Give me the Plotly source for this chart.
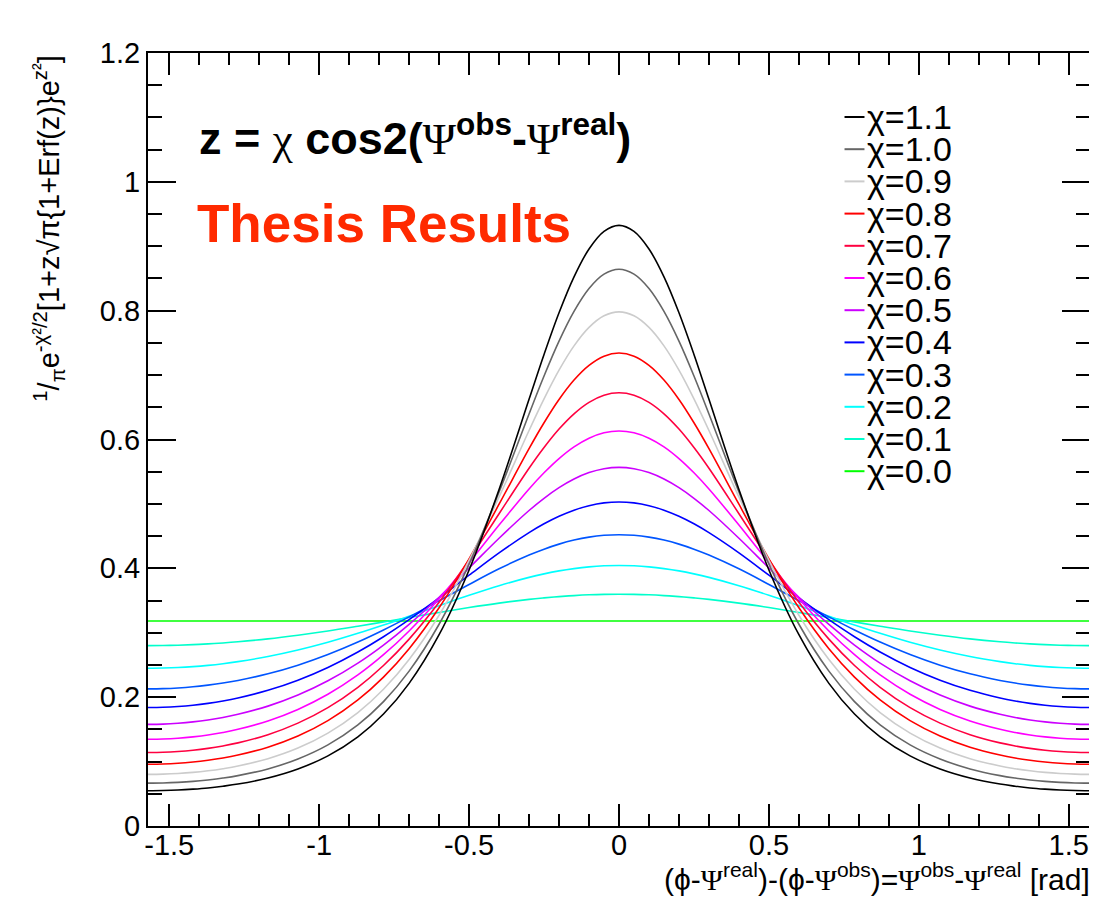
import plotly.graph_objects as go

# ---------------- data (right half; curves are symmetric about 0) ----------------
x_half = [0.0, 0.05, 0.1, 0.15, 0.2, 0.25, 0.3, 0.4, 0.5, 0.6, 0.7, 0.7854, 0.8708, 0.9708,
          1.0708, 1.1708, 1.2708, 1.3208, 1.3708, 1.4208, 1.4708, 1.5208, 1.5708]

chi_labels = ["χ=1.1", "χ=1.0", "χ=0.9", "χ=0.8", "χ=0.7", "χ=0.6",
              "χ=0.5", "χ=0.4", "χ=0.3", "χ=0.2", "χ=0.1", "χ=0.0"]

y_chi_11 = [0.9324, 0.9230, 0.8957, 0.8525, 0.7967, 0.7320, 0.6624, 0.5224, 0.3975, 0.2970, 0.2214, 0.1738,
            0.1385, 0.1089, 0.0885, 0.0745, 0.0651, 0.0618, 0.0591, 0.0572, 0.0558, 0.0550, 0.0547]
y_chi_10 = [0.8644, 0.8567, 0.8344, 0.7989, 0.7527, 0.6986, 0.6397, 0.5184, 0.4065, 0.3132, 0.2404, 0.1931,
            0.1570, 0.1259, 0.1040, 0.0886, 0.0782, 0.0744, 0.0715, 0.0692, 0.0677, 0.0668, 0.0665]
y_chi_09 = [0.7982, 0.7921, 0.7741, 0.7454, 0.7077, 0.6631, 0.6140, 0.5107, 0.4123, 0.3272, 0.2585, 0.2123,
            0.1761, 0.1442, 0.1210, 0.1045, 0.0931, 0.0890, 0.0857, 0.0832, 0.0815, 0.0805, 0.0801]
y_chi_08 = [0.7342, 0.7294, 0.7151, 0.6923, 0.6621, 0.6260, 0.5858, 0.4995, 0.4146, 0.3387, 0.2752, 0.2311,
            0.1957, 0.1635, 0.1396, 0.1223, 0.1101, 0.1055, 0.1020, 0.0993, 0.0974, 0.0963, 0.0959]
y_chi_07 = [0.6725, 0.6688, 0.6577, 0.6399, 0.6162, 0.5876, 0.5554, 0.4848, 0.4134, 0.3473, 0.2901, 0.2491,
            0.2153, 0.1837, 0.1597, 0.1418, 0.1290, 0.1243, 0.1205, 0.1176, 0.1156, 0.1144, 0.1140]
y_chi_06 = [0.6133, 0.6105, 0.6021, 0.5886, 0.5704, 0.5483, 0.5232, 0.4672, 0.4087, 0.3528, 0.3028, 0.2659,
            0.2345, 0.2045, 0.1810, 0.1631, 0.1501, 0.1452, 0.1413, 0.1384, 0.1362, 0.1350, 0.1346]
y_chi_05 = [0.5568, 0.5547, 0.5486, 0.5386, 0.5252, 0.5087, 0.4898, 0.4467, 0.4006, 0.3551, 0.3130, 0.2809,
            0.2529, 0.2254, 0.2033, 0.1861, 0.1734, 0.1685, 0.1646, 0.1616, 0.1595, 0.1582, 0.1578]
y_chi_04 = [0.5030, 0.5016, 0.4973, 0.4903, 0.4808, 0.4691, 0.4554, 0.4240, 0.3893, 0.3540, 0.3203, 0.2938,
            0.2701, 0.2461, 0.2263, 0.2106, 0.1987, 0.1941, 0.1904, 0.1875, 0.1855, 0.1843, 0.1839]
y_chi_03 = [0.4522, 0.4513, 0.4485, 0.4439, 0.4376, 0.4298, 0.4207, 0.3993, 0.3750, 0.3496, 0.3246, 0.3043,
            0.2856, 0.2662, 0.2497, 0.2363, 0.2260, 0.2219, 0.2187, 0.2161, 0.2143, 0.2132, 0.2128]
y_chi_02 = [0.4044, 0.4039, 0.4023, 0.3996, 0.3960, 0.3914, 0.3860, 0.3731, 0.3582, 0.3421, 0.3257, 0.3120,
            0.2991, 0.2852, 0.2732, 0.2631, 0.2552, 0.2520, 0.2494, 0.2474, 0.2460, 0.2452, 0.2449]
y_chi_01 = [0.3598, 0.3596, 0.3589, 0.3577, 0.3561, 0.3541, 0.3518, 0.3460, 0.3391, 0.3315, 0.3236, 0.3167,
            0.3101, 0.3027, 0.2962, 0.2905, 0.2860, 0.2842, 0.2827, 0.2815, 0.2807, 0.2802, 0.2800]
y_chi_00 = [0.3183, 0.3183, 0.3183, 0.3183, 0.3183, 0.3183, 0.3183, 0.3183, 0.3183, 0.3183, 0.3183, 0.3183,
            0.3183, 0.3183, 0.3183, 0.3183, 0.3183, 0.3183, 0.3183, 0.3183, 0.3183, 0.3183, 0.3183]

series = [y_chi_11, y_chi_10, y_chi_09, y_chi_08, y_chi_07, y_chi_06,
          y_chi_05, y_chi_04, y_chi_03, y_chi_02, y_chi_01, y_chi_00]

x_tick_vals = [-1.5, -1.0, -0.5, 0.0, 0.5, 1.0, 1.5]
x_tick_text = ["-1.5", "-1", "-0.5", "0", "0.5", "1", "1.5"]
y_tick_vals = [0.0, 0.2, 0.4, 0.6, 0.8, 1.0, 1.2]
y_tick_text = ["0", "0.2", "0.4", "0.6", "0.8", "1", "1.2"]

# ---------------- styles ----------------
colors = ["#000000", "#666666", "#cccccc", "#ff0000", "#ff0040", "#ff00ff",
          "#cc00ff", "#0000ff", "#0055ff", "#00ffff", "#00ffcc", "#00ff00"]

FONT = "Liberation Sans, Arial, Helvetica, sans-serif"
SERIF = "Liberation Serif, DejaVu Serif, serif"

# mirror the right half to the full range
x_full = [-v for v in x_half[::-1]] + x_half[1:]

fig = go.Figure()
for lab, ys, col in list(zip(chi_labels, series, colors))[::-1]:
    y_full = ys[::-1] + ys[1:]
    fig.add_trace(go.Scatter(
        x=x_full, y=y_full, mode="lines", name=lab,
        line=dict(color=col, width=1.6, shape="spline", smoothing=1.0),
        showlegend=False, hoverinfo="skip"))

OFF = 8                      # page body margin of the html page
W, H = 1097 - OFF, 901 - OFF
L, R, T, B = 140, 5, 45, 75
pw, ph = W - L - R, H - T - B

def px_x(p):                 # page pixel -> paper x
    return (p - OFF - L) / pw

def px_y(p):                 # page pixel -> paper y
    return (H + OFF - B - p) / ph

def serif(s):
    return "<span style='font-family:" + SERIF + "'>" + s + "</span>"

annotations = []
shapes = []

# ROOT-style legend
leg_y0, leg_dy = 117, 32.2
for i, (lab, col) in enumerate(zip(chi_labels, colors)):
    yp = px_y(leg_y0 + leg_dy * i)
    shapes.append(dict(type="line", xref="paper", yref="paper",
                       x0=px_x(846), x1=px_x(866), y0=yp, y1=yp,
                       line=dict(color=col, width=2)))
    annotations.append(dict(xref="paper", yref="paper", x=px_x(867), y=yp,
                            xanchor="left", yanchor="middle", showarrow=False,
                            text=lab, font=dict(family=FONT, size=34, color="black")))

annotations.append(dict(
    xref="paper", yref="paper", x=px_x(197), y=px_y(135), xanchor="left", yanchor="middle",
    showarrow=False,
    text=("<b>z = </b>" + serif("χ") + "<b> cos2(</b>" + serif("Ψ") + "<sup><b>obs</b></sup><b>-</b>"
          + serif("Ψ") + "<sup><b>real</b></sup><b>)</b>"),
    font=dict(family=FONT, size=45, color="black")))

annotations.append(dict(
    xref="paper", yref="paper", x=px_x(195), y=px_y(224), xanchor="left", yanchor="middle",
    showarrow=False, text="<b>Thesis Results</b>",
    font=dict(family=FONT, size=53, color="#ff2a00")))

annotations.append(dict(
    xref="paper", yref="paper", x=px_x(48), y=px_y(53), xanchor="center", yanchor="top",
    textangle=-90, showarrow=False,
    text="<sup>1</sup>/<sub>π</sub>e<sup>-χ²/2</sup>[1+z√π{1+Erf(z)}e<sup>z²</sup>]",
    font=dict(family=FONT, size=29, color="black")))

annotations.append(dict(
    xref="paper", yref="paper", x=px_x(1094), y=px_y(877), xanchor="right", yanchor="middle",
    showarrow=False,
    text=("(ϕ-" + serif("Ψ") + "<sup>real</sup>)-(ϕ-" + serif("Ψ") + "<sup>obs</sup>)="
          + serif("Ψ") + "<sup>obs</sup>-" + serif("Ψ") + "<sup>real</sup> [rad]"),
    font=dict(family=FONT, size=30, color="black")))

axis_common = dict(ticks="inside", tickwidth=1.5, tickcolor="black", showline=True,
                   linecolor="black", linewidth=2, mirror="allticks", showgrid=False,
                   zeroline=False, tickfont=dict(family=FONT, size=29))

fig.update_layout(
    width=W, height=H,
    margin=dict(l=L, r=R, t=T, b=B, pad=0),
    plot_bgcolor="white", paper_bgcolor="white",
    font=dict(family=FONT, size=28, color="black"),
    showlegend=False,
    annotations=annotations, shapes=shapes,
    xaxis=dict(range=[-1.5708, 1.5708], tickmode="array", tickvals=x_tick_vals,
               ticktext=x_tick_text, ticklen=22, ticklabelstandoff=-8,
               minor=dict(tickmode="linear", tick0=0, dtick=0.1, ticks="inside",
                          ticklen=12, tickwidth=1.5, tickcolor="black", showgrid=False),
               **axis_common),
    yaxis=dict(range=[0, 1.2], tickmode="array", tickvals=y_tick_vals,
               ticktext=y_tick_text, ticklen=28,
               minor=dict(tickmode="linear", tick0=0, dtick=0.05, ticks="inside",
                          ticklen=14, tickwidth=1.5, tickcolor="black", showgrid=False),
               **axis_common),
)

fig.write_html("out.html")
